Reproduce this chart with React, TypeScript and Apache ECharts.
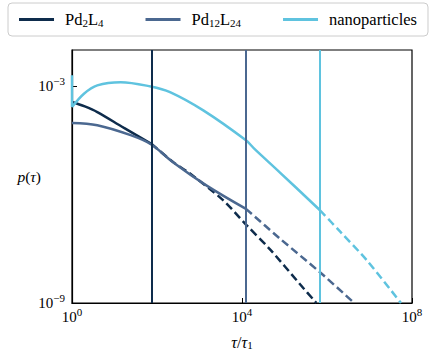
import React, { useEffect, useRef } from "react";
import * as echarts from "echarts";

// ---- data ----
const seriesNames = ["Pd2L4", "Pd12L24", "nanoparticles"];
const legendRich: Record<string, string> = {
  Pd2L4: "Pd{sub|2}L{sub|4}",
  Pd12L24: "Pd{sub|12}L{sub|24}",
  nanoparticles: "nanoparticles",
};
const colors = ["#0e2c4c", "#4b6890", "#5fc3df"];

const tauTicks = [1, 1e4, 1e8];
const pTicks = [1e-9, 1e-3];

// Pd2L4
const pd2l4SolidTau = [1, 2.0, 3.94, 16.7, 73.5];
const pd2l4SolidP = [3.63e-4, 2.75e-4, 1.92e-4, 7.0e-5, 2.55e-5];
const pd2l4DashTau = [73.5, 242, 597, 3630, 12900, 45600, 2.32e5, 5.62e5];
const pd2l4DashP = [2.55e-5, 7.9e-6, 3.8e-6, 6.9e-7, 1.41e-7, 3.05e-8, 3.3e-9, 1.0e-9];
const pd2l4Cutoff = 73.5;

// Pd12L24
const pd12SolidTau = [1, 3.94, 24.0, 73.5, 242, 1476, 12400];
const pd12SolidP = [9.6e-5, 8.3e-5, 4.4e-5, 2.43e-5, 7.7e-6, 1.77e-6, 4.02e-7];
const pd12DashTau = [12400, 78300, 6.84e5, 4.37e6];
const pd12DashP = [4.02e-7, 6.03e-8, 7.08e-9, 1.0e-9];
const pd12Cutoff = 12400;

// nanoparticles
const nanoStartTau = [1, 1];
const nanoStartP = [2.0e-3, 2.63e-4];
const nanoSolidTau = [1, 1.91, 3.94, 14.0, 71.1, 202, 1227, 12400, 20200, 78300, 6.84e5];
const nanoSolidP = [2.63e-4, 6.17e-4, 1.05e-3, 1.29e-3, 9.77e-4, 6.82e-4, 2.13e-4, 3.16e-5, 1.78e-5, 4.07e-6, 3.68e-7];
const nanoDashTau = [6.84e5, 2.02e6, 8.59e6, 5.5e7];
const nanoDashP = [3.68e-7, 9.55e-8, 1.53e-8, 1.0e-9];
const nanoCutoff = 6.84e5;

const FONT_CANDIDATES: [string, number][] = [
  ["Liberation Serif", 1],
  ["Times New Roman", 1],
  ["Tinos", 1],
  ["Nimbus Roman", 1],
  ["DejaVu Serif", 0.82],
];

function pickFont(): { family: string; scale: number } {
  try {
    const ctx = document.createElement("canvas").getContext("2d");
    if (ctx) {
      const sample = "nanoparticles Pd12L24 10 mmmWWiil";
      for (const [fam, scale] of FONT_CANDIDATES) {
        let differs = false;
        for (const base of ["monospace", "sans-serif"]) {
          ctx.font = "32px " + base;
          const w0 = ctx.measureText(sample).width;
          ctx.font = '32px "' + fam + '", ' + base;
          const w1 = ctx.measureText(sample).width;
          if (Math.abs(w1 - w0) > 0.5) differs = true;
          else { differs = false; break; }
        }
        if (differs) return { family: fam, scale };
      }
    }
  } catch (e) {}
  return { family: "DejaVu Serif", scale: 0.82 };
}

function pairs(xs: number[], ys: number[]) {
  return xs.map((x, i) => [x, ys[i]]);
}

function supLabel(v: number) {
  const e = Math.round(Math.log10(v));
  const s = e < 0 ? "\u2212" + Math.abs(e) : String(e);
  return "{b|10}{sup|" + s + "}";
}

export default function App() {
  const ref = useRef<HTMLDivElement>(null);

  useEffect(() => {
    if (!ref.current) return;
    const { family: FONT, scale: k } = pickFont();
    const fs = (n: number) => Math.round(n * k * 10) / 10;
    const chart = echarts.init(ref.current, undefined, { renderer: "svg" });

    const solid = [
      { tau: pd2l4SolidTau, p: pd2l4SolidP, cut: pd2l4Cutoff },
      { tau: pd12SolidTau, p: pd12SolidP, cut: pd12Cutoff },
      { tau: nanoSolidTau, p: nanoSolidP, cut: nanoCutoff },
    ];
    const dashed = [
      { tau: pd2l4DashTau, p: pd2l4DashP },
      { tau: pd12DashTau, p: pd12DashP },
      { tau: nanoDashTau, p: nanoDashP },
    ];

    const series: any[] = [];
    solid.forEach((s, i) => {
      series.push({
        name: seriesNames[i],
        type: "line",
        data: pairs(s.tau, s.p),
        symbol: "none",
        smooth: 0.35,
        lineStyle: { color: colors[i], width: 2.5 },
        itemStyle: { color: colors[i] },
        markLine: {
          silent: true,
          symbol: "none",
          label: { show: false },
          lineStyle: { color: colors[i], width: 2, type: "solid" },
          data: [{ xAxis: s.cut }],
        },
        z: 3,
      });
    });
    dashed.forEach((s, i) => {
      series.push({
        name: seriesNames[i] + " (tail)",
        type: "line",
        data: pairs(s.tau, s.p),
        symbol: "none",
        smooth: 0.3,
        lineStyle: { color: colors[i], width: 2.5, type: [8, 4] },
        itemStyle: { color: colors[i] },
        z: 2,
      });
    });
    series.push({
      name: "nanoparticles (start)",
      type: "line",
      data: pairs(nanoStartTau, nanoStartP),
      symbol: "none",
      lineStyle: { color: colors[2], width: 2.5 },
      z: 3,
    });

    const labelRich = {
      b: { fontFamily: FONT, fontSize: fs(15), color: "#000", lineHeight: 22 },
      sup: { fontFamily: FONT, fontSize: fs(11), color: "#000", verticalAlign: "top" },
    };

    chart.setOption({
      animation: false,
      backgroundColor: "#fff",
      textStyle: { fontFamily: FONT },
      legend: {
        data: seriesNames,
        top: 3,
        left: "center",
        icon: "rect",
        padding: [8, 11, 8, 11],
        itemGap: 42,
        itemWidth: 35,
        itemHeight: 3,
        backgroundColor: "#fff",
        borderColor: "#cccccc",
        borderWidth: 1,
        borderRadius: 4,
        formatter: (name: string) => legendRich[name] || name,
        textStyle: {
          fontFamily: FONT,
          fontSize: fs(16.5),
          color: "#000",
          padding: [0, 0, 0, 6],
          rich: {
            sub: { fontFamily: FONT, fontSize: fs(11), color: "#000", verticalAlign: "bottom" },
          },
        },
      },
      grid: {
        left: 72,
        right: 24,
        top: 50,
        bottom: 57,
        containLabel: false,
        outerBoundsMode: "none",
        show: true,
        borderColor: "#000",
        borderWidth: 1.2,
        backgroundColor: "transparent",
      },
      xAxis: {
        type: "log",
        logBase: 10,
        min: 1,
        max: 1e8,
        name: "{i|\u03c4}/{i|\u03c4}{s|1}",
        nameLocation: "middle",
        nameGap: 31,
        nameTextStyle: {
          fontFamily: FONT,
          fontSize: fs(16),
          color: "#000",
          rich: {
            i: { fontFamily: FONT, fontSize: fs(16), fontStyle: "italic", color: "#000" },
            s: { fontFamily: FONT, fontSize: fs(11), color: "#000", verticalAlign: "bottom" },
          },
        },
        axisLine: { show: true, onZero: false, lineStyle: { color: "#000", width: 1.2 } },
        axisTick: { show: true, inside: true, length: 5, customValues: tauTicks, lineStyle: { color: "#000" } },
        minorTick: { show: false },
        splitLine: { show: false },
        axisLabel: {
          customValues: tauTicks,
          margin: 3,
          fontFamily: FONT,
          formatter: (v: number) => supLabel(v),
          rich: labelRich,
        },
      },
      yAxis: {
        type: "log",
        logBase: 10,
        min: 1e-9,
        max: 1e-2,
        name: "{i|p}({i|\u03c4})",
        nameLocation: "middle",
        nameRotate: 0,
        nameGap: 31,
        nameMoveOverlap: false,
        nameTextStyle: {
          fontFamily: FONT,
          fontSize: fs(15.5),
          color: "#000",
          rich: {
            i: { fontFamily: FONT, fontSize: fs(15.5), fontStyle: "italic", color: "#000" },
          },
        },
        axisLine: { show: true, onZero: false, lineStyle: { color: "#000", width: 1.2 } },
        axisTick: { show: true, inside: true, length: 5, customValues: pTicks, lineStyle: { color: "#000" } },
        minorTick: { show: false },
        splitLine: { show: false },
        axisLabel: {
          customValues: pTicks,
          margin: 7,
          fontFamily: FONT,
          formatter: (v: number) => supLabel(v),
          rich: labelRich,
        },
      },
      series,
    });

    return () => chart.dispose();
  }, []);

  return <div ref={ref} style={{ width: 436, height: 360, position: "absolute", left: 0, top: 0 }} />;
}
